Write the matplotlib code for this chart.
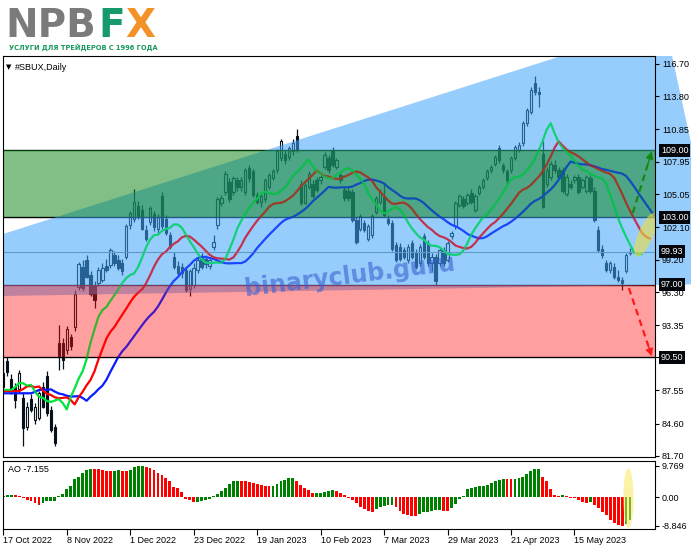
import numpy as np
import matplotlib
matplotlib.use("Agg")
import matplotlib.pyplot as plt
from matplotlib.patches import Rectangle, Polygon, Ellipse
from matplotlib.transforms import ScaledTranslation, blended_transform_factory

# SBUX daily candles, 17 Oct 2022 .. 5 Jun 2023
opens = [87.9, 90.2, 88.6, 87.9, 87.7, 86.9, 84.3, 86.8, 84.9, 85.1,
         87.9, 88.8, 85.8, 84.3, 91.8, 91.8, 91.2, 92.3, 93.2, 96.8,
         98.6, 99.2, 97.9, 96.9, 97.1, 97.4, 98.7, 98.75, 99.6, 99.2,
         98.9, 99.5, 102.3, 102.9, 104.0, 103.7, 101.9, 102.6, 103.3, 102.0,
         104.9, 102.9, 101.4, 99.5, 98.7, 98.6, 98.3, 96.6, 97.0, 98.3,
         99.5, 99.3, 98.7, 100.35, 102.3, 104.3, 105.3, 106.2, 105.3, 106.3,
         105.7, 105.3, 107.4, 107.1, 105.0, 104.4, 104.6, 105.7, 106.5, 107.2,
         108.3, 108.7, 108.4, 108.9, 110.3, 106.0, 104.3, 105.7, 106.0, 106.3,
         106.3, 107.5, 108.3, 109.0, 107.5, 106.8, 105.45, 105.4, 105.3, 102.8,
         102.0, 102.5, 101.1, 101.4, 103.5, 104.4, 104.8, 102.9, 102.5, 100.5,
         100.4, 100.1, 99.2, 100.7, 99.9, 98.9, 101.3, 100.7, 98.9, 99.5,
         98.9, 100.1, 99.2, 101.3, 102.2, 104.1, 104.6, 104.3, 105.2, 103.7,
         105.2, 105.7, 106.5, 107.2, 107.8, 109.2, 107.7, 107.1, 107.2, 108.3,
         109.0, 109.6, 111.4, 112.4, 115.0, 114.2, 108.7, 106.0, 106.6, 107.7,
         107.2, 107.2, 105.1, 106.0, 106.3, 106.6, 105.7, 105.4, 106.5, 105.4,
         101.9, 100.2, 98.9, 98.3, 98.6, 97.7, 97.4, 98.2, 99.8]
highs = [90.3, 90.5, 89.0, 88.2, 89.4, 87.4, 86.5, 87.2, 86.4, 87.5,
         88.3, 89.3, 86.2, 84.6, 93.4, 92.2, 93.3, 92.6, 96.5, 99.0,
         99.2, 99.6, 98.2, 97.3, 98.6, 98.9, 99.3, 100.3, 100.0, 99.6,
         99.3, 102.4, 103.6, 105.5, 104.5, 104.1, 102.3, 104.0, 103.6, 103.3,
         105.3, 103.2, 101.7, 99.9, 99.1, 98.9, 98.6, 98.4, 98.9, 99.4,
         99.8, 99.6, 99.4, 101.4, 104.8, 105.0, 107.1, 106.5, 106.7, 106.6,
         106.6, 107.4, 107.7, 107.3, 105.3, 105.1, 106.5, 107.0, 107.3, 109.1,
         110.0, 109.0, 109.4, 110.0, 110.9, 106.3, 106.1, 107.1, 106.3, 106.6,
         106.8, 108.8, 108.6, 109.3, 108.3, 107.0, 105.7, 105.7, 105.5, 103.0,
         103.3, 102.8, 102.4, 103.3, 104.9, 105.5, 106.0, 103.2, 102.8, 100.8,
         100.7, 100.4, 100.6, 101.0, 100.2, 100.6, 101.6, 101.0, 99.8, 99.7,
         100.3, 100.4, 100.9, 101.8, 104.5, 105.1, 104.9, 105.2, 105.5, 105.1,
         105.9, 106.5, 107.3, 107.7, 108.6, 109.5, 107.9, 107.3, 108.5, 109.5,
         109.7, 111.6, 112.8, 114.6, 115.6, 114.6, 109.8, 107.5, 108.0, 108.1,
         107.5, 107.5, 106.9, 106.3, 106.8, 106.9, 106.5, 106.8, 106.8, 105.7,
         102.2, 100.5, 99.2, 99.1, 98.9, 98.3, 97.7, 99.8, 100.3]
lows = [87.5, 88.8, 87.2, 86.0, 87.3, 82.6, 84.0, 85.6, 84.6, 84.9,
        86.0, 85.3, 83.8, 82.6, 89.4, 89.5, 90.8, 91.2, 92.9, 96.5,
        96.4, 97.6, 96.0, 94.9, 96.9, 97.2, 98.1, 98.5, 98.7, 98.3,
        97.9, 99.3, 102.0, 102.6, 102.9, 101.9, 100.9, 102.3, 101.8, 101.5,
        102.0, 101.4, 100.2, 98.4, 97.8, 97.6, 96.3, 96.0, 96.7, 98.0,
        98.4, 98.5, 98.4, 100.1, 102.0, 104.0, 105.0, 104.4, 105.0, 105.4,
        105.4, 105.0, 106.2, 104.8, 104.2, 103.9, 104.4, 105.5, 106.3, 107.0,
        108.0, 107.8, 108.1, 108.6, 108.8, 104.1, 104.2, 105.5, 104.7, 105.3,
        106.0, 107.3, 107.0, 107.5, 107.3, 106.1, 104.5, 104.5, 102.6, 100.6,
        101.8, 101.7, 100.9, 101.2, 103.3, 104.2, 103.0, 102.3, 100.0, 99.0,
        99.1, 99.3, 98.9, 99.3, 98.4, 98.7, 99.3, 98.7, 98.2, 97.0,
        98.7, 98.7, 99.0, 101.1, 102.0, 103.9, 103.8, 104.1, 104.2, 103.5,
        105.0, 105.5, 106.3, 107.0, 107.6, 107.9, 107.0, 106.1, 107.0, 108.1,
        108.8, 109.4, 111.2, 112.2, 113.9, 112.9, 103.8, 105.7, 106.3, 107.0,
        106.4, 105.2, 104.9, 105.5, 106.1, 105.1, 105.5, 105.2, 105.2, 102.6,
        99.9, 99.4, 98.1, 98.0, 97.5, 97.2, 96.5, 98.0, 99.6]
closes = [89.1, 89.2, 87.6, 86.7, 89.1, 84.2, 86.1, 85.8, 86.1, 87.3,
          86.1, 85.5, 84.0, 82.9, 90.6, 90.3, 93.0, 91.5, 96.2, 98.8,
          96.7, 97.7, 96.2, 95.6, 98.3, 98.5, 98.3, 100.1, 98.9, 98.5,
          98.2, 102.2, 103.4, 104.4, 103.1, 102.0, 101.1, 103.8, 102.1, 103.0,
          102.2, 101.6, 100.4, 98.6, 98.0, 98.0, 96.5, 98.2, 98.5, 99.2,
          98.6, 98.8, 99.2, 100.8, 104.6, 104.7, 106.9, 104.6, 106.5, 105.7,
          106.3, 107.2, 106.5, 105.0, 104.4, 104.9, 106.3, 106.8, 107.1, 108.9,
          109.8, 108.1, 109.2, 109.6, 109.0, 104.3, 105.9, 106.9, 104.9, 105.45,
          106.6, 108.6, 107.2, 107.7, 108.1, 106.3, 104.7, 104.7, 102.8, 100.8,
          103.1, 101.9, 102.2, 103.1, 104.7, 105.3, 103.2, 102.5, 100.2, 99.2,
          99.3, 99.5, 100.4, 99.5, 98.6, 100.4, 99.5, 98.9, 99.5, 97.3,
          100.1, 98.9, 100.7, 101.6, 104.3, 104.9, 104.0, 105.0, 104.4, 104.9,
          105.7, 106.3, 107.1, 107.5, 108.4, 108.1, 107.2, 106.3, 108.3, 109.3,
          109.5, 111.4, 112.6, 114.4, 114.2, 114.0, 103.9, 107.2, 107.8, 107.2,
          106.6, 105.4, 106.6, 105.7, 106.6, 105.3, 106.3, 106.6, 105.4, 102.8,
          100.1, 99.6, 98.3, 98.9, 97.7, 97.4, 97.1, 99.6, 99.93]

# Awesome Oscillator histogram
ao_values = [0.5, 0.6, 0.8, 0.6, 0.3, -0.3, -0.8, -1.3, -1.7, -2.4,
             -1.8, -1.2, -1.15, -1.1, 0.5, 1.0, 2.4, 3.5, 5.7, 6.3,
             7.4, 8.5, 8.9, 8.8, 8.7, 8.4, 8.2, 8.1, 8.2, 8.3,
             8.2, 8.15, 8.5, 9.3, 9.6, 9.769, 9.5, 9.0, 8.3, 7.5,
             6.9, 6.1, 4.9, 3.2, 2.8, 1.6, -0.5, -1.0, -1.4, -1.35,
             -1.2, -1.0, -0.7, 0.4, 0.9, 1.8, 2.8, 4.0, 4.9, 5.0,
             4.95, 4.9, 4.8, 4.5, 4.1, 3.8, 3.6, 3.4, 3.5, 4.1,
             4.9, 5.4, 5.8, 5.9, 5.1, 3.8, 2.8, 2.1, 1.2, 1.25,
             1.4, 1.7, 1.8, 2.2, 1.8, 1.2, 0.6, -0.3, -0.8, -1.7,
             -2.9, -3.6, -4.3, -4.6, -3.6, -3.1, -2.7, -2.4, -2.3, -3.1,
             -4.3, -5.1, -5.6, -5.8, -5.9, -5.2, -4.7, -4.5, -4.2, -4.1,
             -4.0, -4.2, -4.3, -3.4, -2.2, -0.7, 0.5, 2.6, 2.9, 3.2,
             3.4, 3.6, 3.9, 4.5, 5.1, 5.4, 5.6, 5.55, 5.5, 5.6,
             6.0, 6.4, 7.1, 8.0, 8.7, 8.9, 6.2, 4.9, 2.5, 0.7,
             0.5, 0.55, 0.3, -0.1, -0.4, -1.0, -1.4, -1.7, -1.5, -2.4,
             -3.2, -4.5, -5.6, -7.0, -8.1, -8.6, -8.846, -8.3, -7.155]

price_ticks = [116.70, 113.80, 110.85, 107.95, 105.05, 102.10, 99.20,
               96.30, 93.35, 90.50, 87.55, 84.60, 81.70]
ao_ticks = [9.769, 0.0, -8.846]
ao_tick_labels = ['9.769', '0.00', '-8.846']
date_tick_bars = [0, 16, 32, 48, 64, 80, 96, 112, 128, 144]
date_tick_labels = ['17 Oct 2022', '8 Nov 2022', '1 Dec 2022', '23 Dec 2022',
                    '19 Jan 2023', '10 Feb 2023', '7 Mar 2023', '29 Mar 2023',
                    '21 Apr 2023', '15 May 2023']

# analyst's levels and drawing objects
resistance_zone = (103.0, 109.0)
support_zone = (90.5, 97.0)
last_price = 99.93
marked_levels = [109.00, 103.00, 99.93, 97.00, 90.50]
channel_corners = [(-14, 99.94), (166.8, 120.36), (181.1, 97.07), (-14, 95.9)]
up_arrow = [(158.7, 103.4), (163.5, 108.9)]
down_arrow = [(157.7, 96.7), (163.5, 90.6)]

# alligator levels at the left edge of the chart
jaw_start, teeth_start, lips_start = 87.3, 87.5, 87.6

plt.rcParams['font.family'] = ['Liberation Sans', 'DejaVu Sans']

W, H = 691, 549
fig = plt.figure(figsize=(W / 100, H / 100), dpi=100)
fig.patch.set_facecolor('white')


def px_box(left, top, right, bottom):
    return [left / W, 1 - bottom / H, (right - left) / W, (bottom - top) / H]


ax = fig.add_axes(px_box(2.5, 56, 655, 457))
ao_ax = fig.add_axes(px_box(2.5, 461, 655, 529))

n = len(closes)
bars = np.arange(n)
ink = '#07111c'

# candles
ax.vlines(bars, lows, highs, color=ink, lw=0.9, zorder=2)
for i in range(n):
    o, c = opens[i], closes[i]
    face = 'white' if c >= o else ink
    ax.add_patch(Rectangle((i - 0.3, min(o, c)), 0.6, max(abs(c - o), 0.06),
                           facecolor=face, edgecolor=ink, lw=0.8, zorder=2.5))


# Alligator: smoothed moving averages of the median price, shifted forward
def smma(values, period, start):
    out, prev = [], start
    for v in values:
        prev = (prev * (period - 1) + v) / period
        out.append(prev)
    return out


median = [(h + l) / 2 for h, l in zip(highs, lows)]
for period, shift, start, color in [(13, 8, jaw_start, '#0a1eff'),
                                    (8, 5, teeth_start, '#ff0000'),
                                    (5, 3, lips_start, '#00e63c')]:
    line = [start] * shift + smma(median, period, start)
    xs = np.arange(len(line))
    # drawn under the tinted zones, then once more faintly on top
    ax.plot(xs, line, color=color, lw=1.5, zorder=3)
    ax.plot(xs, line, color=color, lw=1.5, alpha=0.45, zorder=6)

ax.axhline(last_price, color='#8c8c8c', lw=0.8, zorder=4)
for lv in [resistance_zone[1], resistance_zone[0], support_zone[1], support_zone[0]]:
    ax.axhline(lv, color='black', lw=1.0, zorder=4)

# zones (semi transparent so they tint what lies under them, like MT4)
channel = Polygon(channel_corners, closed=True, facecolor=(64 / 255, 164 / 255, 250 / 255),
                  alpha=0.55, lw=0, zorder=5)
ax.add_patch(channel)
channel.set_clip_path(Rectangle((2.5 / W, 1 - 457 / H), (W - 2.5) / W, 401 / H,
                                transform=fig.transFigure))
ax.add_patch(Rectangle((-5, resistance_zone[0]), 180, resistance_zone[1] - resistance_zone[0],
                       facecolor=(5 / 255, 129 / 255, 15 / 255), alpha=0.5, lw=0, zorder=5))
ax.add_patch(Rectangle((-5, support_zone[0]), 180, support_zone[1] - support_zone[0],
                       facecolor=(1.0, 17 / 255, 17 / 255), alpha=0.4, lw=0, zorder=5))

# forecast arrows
for (x0, y0), (x1, y1), color in [(up_arrow[0], up_arrow[1], '#128a12'),
                                  (down_arrow[0], down_arrow[1], '#ff1a1a')]:
    ax.plot([x0, x0 + 0.85 * (x1 - x0)], [y0, y0 + 0.85 * (y1 - y0)],
            color=color, lw=1.6, ls=(0, (3, 2)), zorder=7)
    ax.annotate('', xy=(x1, y1), xytext=(x1 - 0.2 * (x1 - x0), y1 - 0.2 * (y1 - y0)),
                arrowprops=dict(arrowstyle='-|>', color=color, lw=1.0, mutation_scale=11,
                                shrinkA=0, shrinkB=0), zorder=7)

ax.add_patch(Ellipse((0, 0), 0.47, 0.15, angle=67,
                     transform=fig.dpi_scale_trans + ScaledTranslation(161.96, 101.45, ax.transData),
                     facecolor=(0.93, 0.87, 0.25), alpha=0.6, lw=0, zorder=7))

ax.text(87.4, 97.77, 'binaryclub.guru', rotation=7, fontsize=17, fontweight='bold',
        family='DejaVu Sans', color='#3a5fd0', alpha=0.6, ha='center', va='center', zorder=8)

ax.set_xlim(-0.2, 164.3)
ax.set_ylim(81.61, 117.41)
ax.set_xticks([])
ax.yaxis.tick_right()
ax.set_yticks(price_ticks)
ax.set_yticklabels([f'{v:.2f}' for v in price_ticks])
ax.tick_params(axis='y', length=3, width=0.8, pad=2, labelsize=6.5)
ax.yaxis.set_zorder(9)
for s in ax.spines.values():
    s.set_zorder(9)
    s.set_linewidth(0.8)

tr = blended_transform_factory(ax.transAxes, ax.transData)
for lv in marked_levels:
    ax.text(1 + 6 / 652.5, lv, f'{lv:.2f}', transform=tr, ha='left', va='center',
            color='white', fontsize=6.5, zorder=11, clip_on=False,
            bbox=dict(boxstyle='square,pad=0.2', fc='#03070c', ec='none'))

# AO panel
ao_colors = ['#008000'] + ['#008000' if ao_values[i] > ao_values[i - 1] else '#ff0000'
                           for i in range(1, n)]
ao_ax.bar(bars, ao_values, width=0.72, color=ao_colors, lw=0, zorder=2)
ao_ax.add_patch(Ellipse((157.6, -0.3), 2.6, 18.6, facecolor=(0.98, 0.9, 0.3),
                        alpha=0.5, lw=0, zorder=3))
ao_ax.set_xlim(-0.2, 164.3)
ao_ax.set_ylim(-9.87, 11.23)
ao_ax.yaxis.tick_right()
ao_ax.set_yticks(ao_ticks)
ao_ax.set_yticklabels(ao_tick_labels)
ao_ax.set_xticks(date_tick_bars)
ao_ax.set_xticklabels(date_tick_labels, ha='left')
ao_ax.tick_params(axis='y', length=3, width=0.8, pad=2, labelsize=6.5)
ao_ax.tick_params(axis='x', length=4, width=0.8, pad=1, labelsize=6.5)
for s in ao_ax.spines.values():
    s.set_linewidth(0.8)

fig.text(8 / W, 1 - 469 / H, 'AO -7.155', fontsize=6.5, va='center')
fig.text(6 / W, 1 - 67 / H, '\u25bc', fontsize=5, family='DejaVu Sans', va='center')
fig.text(15 / W, 1 - 67 / H, '#SBUX,Daily', fontsize=6.5, va='center')

# logo
logo = dict(fontsize=28, fontweight='bold', family='DejaVu Sans', va='baseline')
fig.text(5.8 / W, 1 - 36.7 / H, 'NPB', color='#7b7b7b', **logo)
fig.text(98 / W, 1 - 36.7 / H, 'F', color='#16996b', **logo)
fig.text(125 / W, 1 - 36.7 / H, 'X', color='#f4922a', **logo)
renderer = fig.canvas.get_renderer()
sub = fig.text(9 / W, 1 - 50 / H, 'УСЛУГИ ДЛЯ ТРЕЙДЕРОВ С 1996 ГОДА', fontsize=7,
               fontweight='bold', family=['Liberation Sans Narrow', 'DejaVu Sans'],
               color='#15985a', va='baseline')
sub.set_fontsize(7 * 150 / sub.get_window_extent(renderer).width)

fig.savefig('out.png', dpi=100)
